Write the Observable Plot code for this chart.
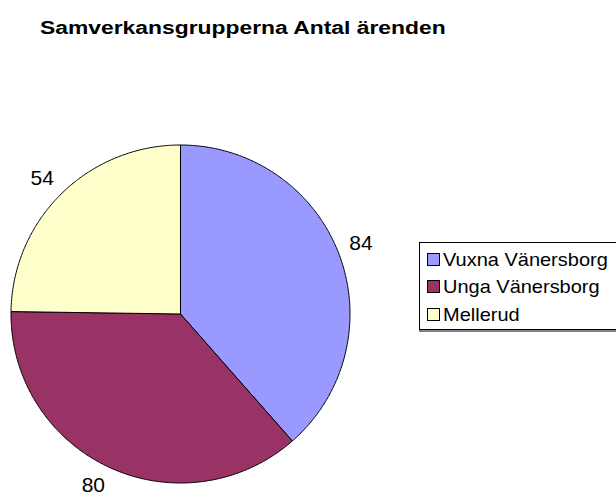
<!DOCTYPE html>
<html>
<head>
<meta charset="utf-8">
<script src="https://cdn.jsdelivr.net/npm/d3@7"></script>
<script src="https://cdn.jsdelivr.net/npm/@observablehq/plot@0.6"></script>
<style>
  html, body { margin: 0; padding: 0; background: #fff; overflow: hidden; }
  #wrap { position: relative; width: 616px; height: 500px; font-family: "Liberation Sans", Arial, sans-serif; }
  #chart { position: absolute; left: 0; top: 0; }
  #title { position: absolute; left: 40px; top: 18.8px; font-size: 18px; line-height: 18px; font-weight: bold;
           white-space: nowrap; transform: scaleX(1.27); transform-origin: left center; color: #000; }
  #legend { position: absolute; left: 419px; top: 242px; width: 230px; height: 83px; border: 1px solid #000;
            box-shadow: 0 2px 0 #808080; padding-top: 2.7px; box-sizing: content-box; background: #fff; }
  .row { height: 27.8px; line-height: 27.8px; font-size: 18.5px; white-space: nowrap; color: #000; }
  .sw { display: inline-block; width: 11px; height: 11px; border: 1px solid #000; margin-left: 7px; margin-right: 3px; vertical-align: baseline; }
  .lt { display: inline-block; transform: scaleX(1.08); transform-origin: left center; }
</style>
</head>
<body>
<div id="wrap">
  <div id="chart"></div>
  <div id="title"></div>
  <div id="legend"></div>
</div>
<script>
const titleText = "Samverkansgrupperna Antal ärenden";
const names = ["Vuxna Vänersborg", "Unga Vänersborg", "Mellerud"];
const values = [84, 80, 54];
const colors = ["#9999FF", "#993366", "#FFFFCC"];

// pie geometry (angles clockwise from 12 o'clock)
const arcs = d3.pie().sort(null).value(d => d)(values);
const slices = [];
arcs.forEach((a, i) => {
  slices.push({name: names[i], x: 0, y: 0});
  const n = Math.max(2, Math.ceil((a.endAngle - a.startAngle) / (Math.PI / 360)));
  for (let k = 0; k <= n; k++) {
    const t = a.startAngle + (a.endAngle - a.startAngle) * k / n;
    slices.push({name: names[i], x: Math.sin(t), y: Math.cos(t)});
  }
  slices.push({name: names[i], x: 0, y: 0});
});

// label placement outside the pie
const Rpx = 169, gap = 11, halfW = 11.5, halfH = 7.7;
const labels = arcs.map((a, i) => {
  const m = (a.startAngle + a.endAngle) / 2;
  const sx = Math.sin(m), sy = Math.cos(m);
  return {
    label: String(values[i]),
    x: ((Rpx + gap) * sx + halfW * Math.sign(sx)) / Rpx,
    y: ((Rpx + gap) * sy + halfH * Math.sign(sy)) / Rpx
  };
});

const plot = Plot.plot({
  width: 616,
  height: 500,
  marginLeft: 10.5,
  marginRight: 266.5,
  marginTop: 144.5,
  marginBottom: 17.5,
  x: {domain: [-1, 1], axis: null},
  y: {domain: [-1, 1], axis: null},
  color: {domain: names, range: colors},
  style: {fontFamily: "'Liberation Sans', Arial, sans-serif", background: "transparent"},
  marks: [
    Plot.line(slices, {x: "x", y: "y", z: "name", fill: "name", stroke: "#000", strokeWidth: 1, strokeLinejoin: "round"}),
    Plot.text(labels, {x: "x", y: "y", text: "label", fontSize: 21, fill: "#000"})
  ]
});
document.getElementById("chart").appendChild(plot);

document.getElementById("title").textContent = titleText;
const legend = document.getElementById("legend");
names.forEach((n, i) => {
  const row = document.createElement("div");
  row.className = "row";
  const sw = document.createElement("span");
  sw.className = "sw";
  sw.style.background = colors[i];
  const t = document.createElement("span");
  t.className = "lt";
  t.textContent = n;
  row.appendChild(sw);
  row.appendChild(t);
  legend.appendChild(row);
});
</script>
</body>
</html>
